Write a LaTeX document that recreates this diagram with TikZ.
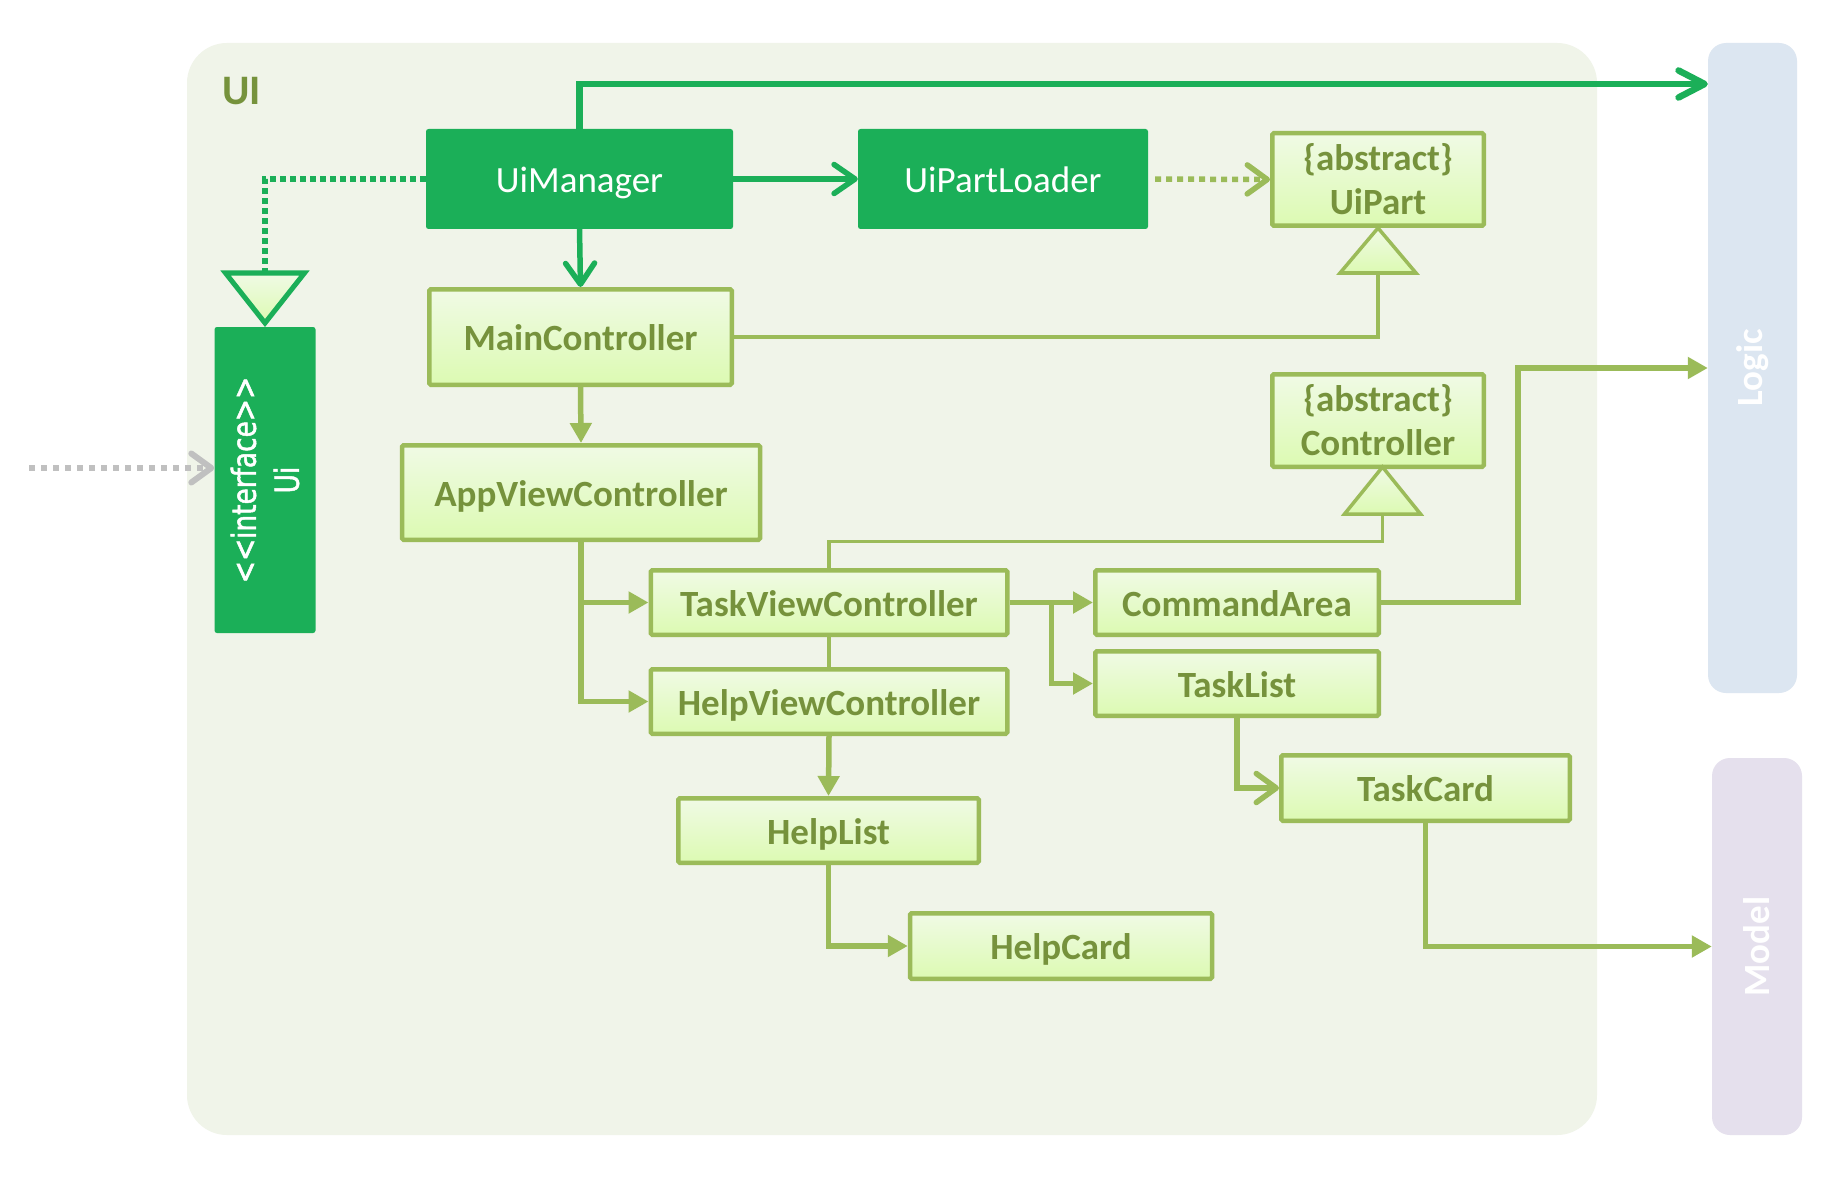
\documentclass[tikz,border=0pt]{standalone}
\usepackage{fontspec}
\setmainfont{Carlito}
\newfontfamily\ifacefont{DejaVu Sans}[FakeStretch=0.8,FakeBold=1.5]
\usetikzlibrary{arrows.meta,calc}
\definecolor{dkgreen}{RGB}{27,175,88}
\definecolor{olive}{RGB}{155,187,89}
\definecolor{olivetext}{RGB}{118,146,60}
\definecolor{uibg}{RGB}{240,244,233}
\definecolor{lighttop}{RGB}{240,250,229}
\definecolor{lightbot}{RGB}{220,250,178}
\definecolor{logicbg}{RGB}{220,230,241}
\definecolor{modelbg}{RGB}{229,224,237}
\definecolor{grayarrow}{RGB}{192,192,192}
\tikzset{
  darkbox/.style={fill=dkgreen, rounded corners=2.5pt, text=white,
    font=\fontsize{37}{44}\selectfont, inner sep=0pt, text height=27pt, text depth=0pt},
  lightbox/.style={draw=olive, line width=4.5pt, rounded corners=1.5pt,
    top color=lighttop, bottom color=lightbot, text=olivetext,
    font=\bfseries\fontsize{37}{44}\selectfont, inner sep=0pt, align=center},
  oneline/.style={text height=27pt, text depth=0pt},
  layerbox/.style={rounded corners=18pt, inner sep=0pt},
  layerlabel/.style={text=white, font=\bfseries\fontsize{37}{44}\selectfont, rotate=90, inner sep=0pt},
  dkline/.style={draw=dkgreen, line width=5.5pt},
  dkarrow/.style={dkline, -{Straight Barb[length=21pt,width=29pt,round]}},
  bigarrow/.style={draw=dkgreen, line width=6.5pt, -{Straight Barb[length=26pt,width=27pt,round]}},
  dkdotted/.style={dkline, dash pattern=on 5.5pt off 4.5pt},
  lgline/.style={draw=olive, line width=5.5pt},
  lgarrow/.style={lgline, -{Triangle[length=20pt,width=21pt]}},
  lgbarb/.style={lgline, -{Straight Barb[length=20pt,width=29pt,round]}},
  lgdotted/.style={lgline, dash pattern=on 6pt off 5pt, -{Straight Barb[length=20pt,width=29pt,round]}},
  inherit/.style={draw=olive, line width=3.3pt},
  gentri/.style={line width=3.5pt, draw=olive, top color=lighttop, bottom color=lightbot, line join=miter},
  graydot/.style={draw=grayarrow, line width=6pt, dash pattern=on 6pt off 6pt,
    -{Straight Barb[length=20pt,width=29pt,round]}}
}
\begin{document}
\begin{tikzpicture}[x=1pt,y=-1pt]
\useasboundingbox (0,0) rectangle (1838,1182);
\fill[white] (0,0) rectangle (1838,1182);
% containers
\fill[uibg, rounded corners=40pt] (187,43) rectangle (1597,1135);
\node[layerbox, fill=logicbg, minimum width=89pt, minimum height=650pt] (Logic) at (1752.5,368) {};
\node[layerbox, fill=modelbg, minimum width=90pt, minimum height=377pt] (Model) at (1757,946.5) {};
\node[layerlabel] (LogicLabel) at (Logic.center) {Logic};
\node[layerlabel] (ModelLabel) at (Model.center) {Model};
\node[anchor=base west, text=olivetext, font=\bfseries\fontsize{42}{46}\selectfont, inner sep=0pt] (UIlabel) at (222,105) {UI};

% nodes
\node[darkbox, minimum width=307pt, minimum height=100pt] (UiManager) at (579.5,179) {UiManager};
\node[darkbox, minimum width=290pt, minimum height=100pt] (UiPartLoader) at (1003,179) {UiPartLoader};
\node[lightbox, minimum width=211.5pt, minimum height=92.5pt] (UiPart) at (1378,179.5) {\{abstract\}\\UiPart};
\node[lightbox, minimum width=211.5pt, minimum height=92.5pt] (Controller) at (1378,420.5) {\{abstract\}\\Controller};
\node[lightbox, oneline, minimum width=302.5pt, minimum height=95.5pt] (MainController) at (580.5,337) {MainController};
\node[lightbox, oneline, minimum width=358pt, minimum height=94.5pt] (AppViewController) at (581,492.5) {AppViewController};
\node[fill=dkgreen, rounded corners=2.5pt, inner sep=0pt, minimum width=101pt, minimum height=306pt] (Ui) at (265,480) {};
\node[rotate=90, text=white, align=center, inner sep=0pt, font=\ifacefont\fontsize{33}{43}\selectfont] (UiText) at (Ui.center) {<{}<interface>{}>\\Ui};
\node[lightbox, oneline, minimum width=356.5pt, minimum height=64.5pt] (TaskViewController) at (829,602.5) {TaskViewController};
\node[lightbox, oneline, minimum width=356.5pt, minimum height=64.5pt] (HelpViewController) at (829,701.5) {HelpViewController};
\node[lightbox, oneline, minimum width=283.5pt, minimum height=64.5pt] (CommandArea) at (1237,602.5) {CommandArea};
\node[lightbox, oneline, minimum width=283.5pt, minimum height=64.5pt] (TaskList) at (1237,683.5) {TaskList};
\node[lightbox, oneline, minimum width=288.5pt, minimum height=65.5pt] (TaskCard) at (1425.5,788) {TaskCard};
\node[lightbox, oneline, minimum width=300.5pt, minimum height=64.5pt] (HelpList) at (828.5,830.5) {HelpList};
\node[lightbox, oneline, minimum width=302pt, minimum height=65.5pt] (HelpCard) at (1061,946) {HelpCard};

% helper coordinates
\coordinate (toprow) at (0,84);
\coordinate (tri1a) at (UiPart.south);
\coordinate (tri1b) at ($(tri1a)+(0,45)$);
\coordinate (tri2a) at ($(Controller.south)+(4.5,-2)$);
\coordinate (tri2b) at ($(tri2a)+(0,47)$);
\coordinate (tri0b) at (265,273);
\coordinate (extsrc) at (29,468);

% connectors
\draw[bigarrow] (UiManager.north) |- (Logic.west |- toprow);
\draw[dkarrow] (UiManager.east) -- (UiPartLoader.west);
\draw[dkarrow] (UiManager.south) -- (MainController.north);
\draw[dkdotted] (UiManager.west) -| (tri0b);
\draw[lgdotted, shorten <=7pt] (UiPartLoader.east) -- (UiPart.west);
\draw[inherit] (MainController.east) -| (tri1b);
\draw[lgarrow] (MainController.south) -- (AppViewController.north);
\draw[lgarrow] (AppViewController.south) |- (HelpViewController.west);
\draw[lgarrow] (AppViewController.south |- TaskViewController.west) -- (TaskViewController.west);
\draw[inherit] (TaskViewController.north) -- ++(0,-26.5) -| (tri2b);
\draw[inherit] (TaskViewController.south) -- (HelpViewController.north);
\draw[lgarrow] (TaskViewController.east) -- (CommandArea.west);
\draw[lgarrow] (TaskViewController.east) -- ++(42,0) |- (TaskList.west);
\draw[lgarrow] (CommandArea.east) -- ++(137,0) |- (Logic.west);
\draw[lgbarb] (TaskList.south) |- (TaskCard.west);
\draw[lgarrow] (HelpViewController.south) -- (HelpList.north);
\draw[lgarrow] (HelpList.south) |- (HelpCard.west);
\draw[lgarrow] (TaskCard.south) |- (Model.west);
\draw[graydot] (extsrc) -- (Ui.west |- extsrc);

% generalisation triangles
\draw[gentri] (tri1a) -- ($(tri1b)+(-38,0)$) -- ($(tri1b)+(38,0)$) -- cycle;
\draw[gentri] (tri2a) -- ($(tri2b)+(-38,0)$) -- ($(tri2b)+(38,0)$) -- cycle;
\draw[gentri, draw=dkgreen, line width=5pt] ($(tri0b)+(-39.5,0)$) -- ($(tri0b)+(39.5,0)$) -- ($(tri0b)+(0,50)$) -- cycle;
\end{tikzpicture}
\end{document}
